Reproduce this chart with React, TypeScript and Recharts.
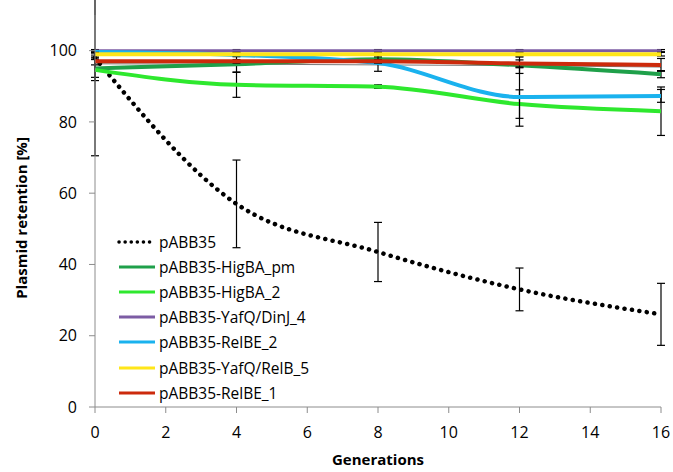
import React from "react";
import { LineChart, Line, XAxis, YAxis, ErrorBar, Legend, Label } from "recharts";

const generations = [0, 4, 8, 12, 16];
const xTicks = [0, 2, 4, 6, 8, 10, 12, 14, 16];
const yTicks = [0, 20, 40, 60, 80, 100];

const pABB35 = [98, 57, 43.5, 33, 26];
const pABB35Err = [27.5, 12.3, 8.3, 6, 8.7];
const higBApm = [95, 96.2, 97.6, 95.9, 93.4];
const higBApmErr = [2.5, 2.2, 0.5, 2.3, 1];
const higBA2 = [94.6, 90.4, 89.9, 85, 83];
const higBA2Err = [3, 3.5, 0.5, 4, 6.8];
const yafQDinJ4 = [100, 100, 100, 100, 100];
const yafQDinJ4Err = [0.3, 0.3, 0.3, 0.3, 0.3];
const relBE2 = [99.6, 98.8, 96.5, 87, 87.3];
const relBE2Err = [0.5, 0.5, 2.3, 8.2, 1.8];
const yafQRelB5 = [99, 99, 99, 99, 99];
const yafQRelB5Err = [0.5, 0.5, 0.5, 0.5, 0.5];
const relBE1 = [97, 97, 97, 96.4, 96];
const relBE1Err = [1, 0.5, 0.5, 1, 1.8];
const grayRef = [96.3, 96.2, 96, 95.8, 95.4];

const series = [
  { key: "pABB35", name: "pABB35", values: pABB35, err: pABB35Err, color: "#000000", dotted: true },
  { key: "higBApm", name: "pABB35-HigBA_pm", values: higBApm, err: higBApmErr, color: "#1fa04a" },
  { key: "higBA2", name: "pABB35-HigBA_2", values: higBA2, err: higBA2Err, color: "#2ee82e" },
  { key: "yafQDinJ4", name: "pABB35-YafQ/DinJ_4", values: yafQDinJ4, err: yafQDinJ4Err, color: "#7c5ca4" },
  { key: "relBE2", name: "pABB35-RelBE_2", values: relBE2, err: relBE2Err, color: "#1ab2ee" },
  { key: "yafQRelB5", name: "pABB35-YafQ/RelB_5", values: yafQRelB5, err: yafQRelB5Err, color: "#ffe619" },
  { key: "relBE1", name: "pABB35-RelBE_1", values: relBE1, err: relBE1Err, color: "#cc2a0c" },
];

const data = generations.map((g, i) => {
  const row: any = { g, gray: grayRef[i] };
  series.forEach((s) => {
    row[s.key] = s.values[i];
    row[s.key + "Err"] = s.err[i];
  });
  return row;
});

const FONT = "'Open Sans', sans-serif";

const renderLegend = () => (
  <div style={{ fontFamily: FONT, fontSize: 15.5, color: "#000", textAlign: "left" }}>
    {series.map((s) => (
      <div key={s.key} style={{ display: "flex", alignItems: "center", height: 25.2 }}>
        <svg width={40} height={10} style={{ marginRight: 2 }}>
          <line
            x1={2}
            y1={5}
            x2={38}
            y2={5}
            stroke={s.color}
            strokeWidth={s.dotted ? 3.5 : 3}
            strokeDasharray={s.dotted ? "0.1 6" : undefined}
            strokeLinecap={s.dotted ? "round" : "butt"}
          />
        </svg>
        <span style={{ whiteSpace: "nowrap" }}>{s.name}</span>
      </div>
    ))}
  </div>
);

const YTitle = (props: any) => {
  const vb = props.viewBox || { x: 0, y: 0, width: 0, height: 0 };
  const x = vb.x + 21;
  const y = vb.y + vb.height / 2 + 7;
  return (
    <text
      x={x}
      y={y}
      transform={`rotate(-90, ${x}, ${y})`}
      textAnchor="middle"
      dominantBaseline="central"
      style={{ fontFamily: FONT, fontSize: 15, fontWeight: "bold", fill: "#000" }}
    >
      Plasmid retention [%]
    </text>
  );
};

export default function App() {
  return (
    <div style={{ position: "absolute", left: 0, top: 0, background: "#fff" }}>
      <LineChart width={673} height={472} data={data} margin={{ top: 15, right: 12, bottom: 0, left: 0 }}>
        <XAxis
          dataKey="g"
          type="number"
          domain={[0, 16]}
          ticks={xTicks}
          height={65}
          stroke="#8c8c8c"
          tickSize={6}
          tick={{ fill: "#000", fontSize: 16, fontFamily: FONT }}
          tickMargin={14}
        >
          <Label
            value="Generations"
            position="insideBottom"
            offset={7}
            style={{ fontFamily: FONT, fontSize: 15, fontWeight: "bold", fill: "#000" }}
          />
        </XAxis>
        <YAxis
          type="number"
          domain={[0, 110]}
          ticks={yTicks}
          allowDataOverflow
          width={95}
          stroke="#8c8c8c"
          tickSize={6}
          tick={{ fill: "#000", fontSize: 16, fontFamily: FONT }}
          tickMargin={12}
        >
          <Label content={YTitle} />
        </YAxis>
        <Legend
          layout="vertical"
          align="center"
          verticalAlign="middle"
          wrapperStyle={{ left: 117, top: 229, width: 260 }}
          content={renderLegend}
        />
        <Line
          dataKey="gray"
          type="monotone"
          stroke="#777777"
          strokeWidth={1}
          dot={false}
          legendType="none"
          isAnimationActive={false}
        />
        {series.map((s) => (
          <Line
            key={s.key}
            dataKey={s.key}
            name={s.name}
            type="monotone"
            stroke={s.color}
            strokeWidth={s.dotted ? 4.5 : s.key === "yafQDinJ4" ? 3 : 4}
            strokeDasharray={s.dotted ? "0.1 7.4" : undefined}
            strokeLinecap={s.dotted ? "round" : "butt"}
            dot={false}
            isAnimationActive={false}
          >
            <ErrorBar dataKey={s.key + "Err"} width={4} stroke="#000" strokeWidth={1.2} direction="y" />
          </Line>
        ))}
      </LineChart>
    </div>
  );
}
